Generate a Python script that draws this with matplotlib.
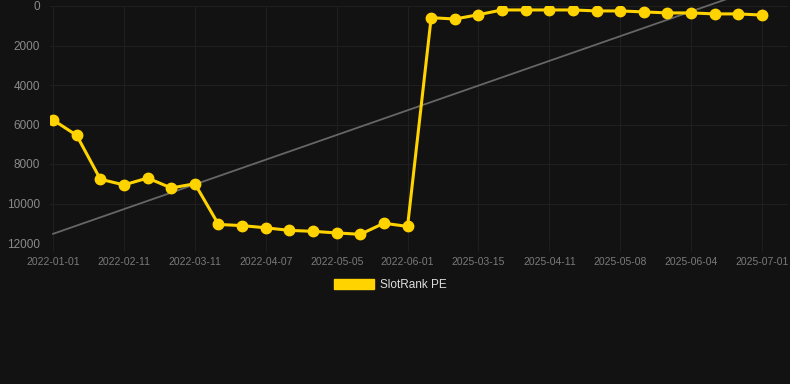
import numpy as np
import matplotlib
matplotlib.use('Agg')
import matplotlib.pyplot as plt
from matplotlib.patches import Patch

dates = ['2022-01-01', '2022-01-15', '2022-01-29', '2022-02-11', '2022-02-18',
         '2022-02-25', '2022-03-11', '2022-03-18', '2022-03-25', '2022-04-07',
         '2022-04-14', '2022-04-21', '2022-05-05', '2022-05-12', '2022-05-19',
         '2022-06-01', '2025-02-20', '2025-03-01', '2025-03-15', '2025-03-22',
         '2025-03-29', '2025-04-11', '2025-04-18', '2025-04-25', '2025-05-08',
         '2025-05-15', '2025-05-22', '2025-06-04', '2025-06-11', '2025-06-18',
         '2025-07-01']
rank = [5770, 6550, 8770, 9060, 8710, 9215, 9000, 11060, 11120, 11230,
        11360, 11410, 11490, 11560, 11000, 11160, 590, 660, 440, 200,
        200, 200, 200, 250, 250, 300, 350, 350, 400, 400, 460]
yticks = [0, 2000, 4000, 6000, 8000, 10000, 12000]

BG = '#121212'
GRID = '#1f1f1f'
YELLOW = '#ffd300'

plt.rcParams['font.family'] = ['Liberation Sans', 'DejaVu Sans']

fig = plt.figure(figsize=(7.9, 3.84), dpi=100, facecolor=BG)
ax = fig.add_axes([50 / 790, 1 - 243 / 384, 738 / 790, 237 / 384], facecolor=BG)

x = np.arange(len(rank))
ax.plot(x, rank, color=YELLOW, lw=2.2, marker='o', ms=7.5, zorder=3)

# linear trend line
k, b = np.polyfit(x, rank, 1)
ax.plot(x, k * x + b, color='#666666', lw=1.3, zorder=2, clip_on=False)

ax.set_xlim(-0.13, 31.1)
ax.set_ylim(12000, 0)
ax.set_yticks(yticks)
ax.set_xticks(x[::3])
ax.set_xticklabels(dates[::3])
ax.grid(True, color=GRID, lw=0.8)
for s in ax.spines.values():
    s.set_visible(False)
ax.tick_params(axis='y', length=0, pad=7, labelsize=8.5, labelcolor='#8a8a8a')
ax.tick_params(axis='x', length=6, color=GRID, pad=4, labelsize=7.5, labelcolor='#7a7a7a')

fig.legend(handles=[Patch(color=YELLOW, label='SlotRank PE')], loc='center',
           bbox_to_anchor=(390 / 790, 1 - 285 / 384), frameon=False,
           fontsize=8.5, labelcolor='#dddddd', handlelength=3.4,
           handleheight=0.95, handletextpad=0.5)

fig.savefig('out.png', dpi=100, facecolor=BG)
